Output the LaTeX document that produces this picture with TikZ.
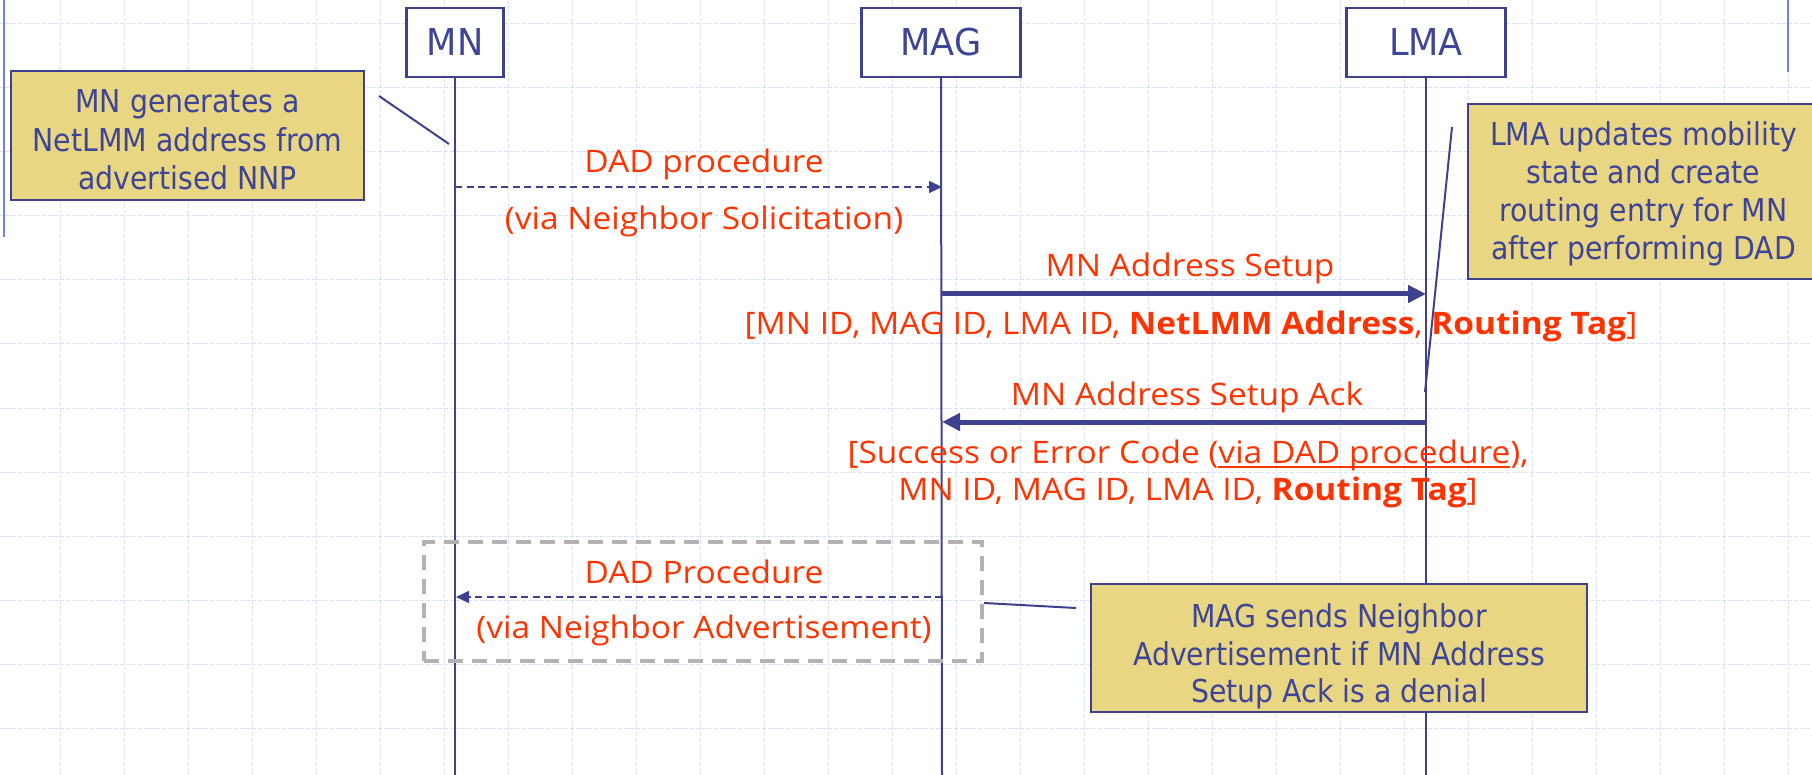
\documentclass[tikz,border=0pt]{standalone}
\usepackage{fontspec}
\usetikzlibrary{arrows.meta}
\newfontfamily\tahoma[FakeStretch=0.9]{DejaVu Sans}
\newfontfamily\tahomawide[FakeStretch=0.95]{DejaVu Sans}
\newfontfamily\comic[FakeStretch=1.08]{Open Sans}
\definecolor{ink}{RGB}{64,64,144}
\definecolor{txtblue}{RGB}{62,68,150}
\definecolor{notefill}{RGB}{233,214,131}
\definecolor{msgred}{RGB}{255,51,0}
\definecolor{gridblue}{RGB}{216,224,250}
\definecolor{edgeblue}{RGB}{110,128,240}
\definecolor{groupgrey}{RGB}{178,178,178}
% underline drawn just below the baseline
\newcommand\lowline[1]{\leavevmode\setbox0\hbox{#1}\rlap{\rule[-5pt]{\wd0}{1.6pt}}\box0}
\tikzset{
  gridline/.style={gridblue, line width=1pt, dash pattern=on 4pt off 2pt},
  edgeline/.style={edgeblue, line width=2.5pt},
  actor/.style={draw=ink, line width=2.4pt, fill=white, inner sep=0pt,
    font=\tahomawide\fontsize{37}{40}\selectfont, text=txtblue,
    minimum height=69pt},
  notebox/.style={draw=ink, line width=2pt, fill=notefill, inner sep=0pt},
  notetext/.style={font=\tahoma\fontsize{31.5}{38}\selectfont, text=txtblue,
    anchor=base, inner sep=0pt},
  life/.style={ink, line width=2pt},
  msg/.style={font=\comic\fontsize{31}{36}\selectfont, text=msgred,
    anchor=base, inner sep=0pt},
  async/.style={ink, line width=1.6pt, dash pattern=on 7pt off 4.5pt,
    -{Triangle[length=13pt,width=12pt]}},
  sync/.style={ink, line width=5pt, -{Triangle[length=18pt,width=17pt]}},
  tether/.style={ink, line width=2pt},
  group/.style={draw=groupgrey, line width=4pt, dash pattern=on 15pt off 9pt,
    inner sep=0pt},
}
\begin{document}
\begin{tikzpicture}[x=1pt,y=-1pt]
\useasboundingbox (0,0) rectangle (1812,775);
\clip (0,0) rectangle (1812,775);

% background grid
\foreach \x in {60,124,...,1788} \draw[gridline] (\x,0) -- (\x,775);
\foreach \y in {24,88,...,728} \draw[gridline] (0,\y) -- (1812,\y);

% page edge marks
\draw[edgeline] (4,0) -- (4,237);
\draw[edgeline] (1788,0) -- (1788,72);

% actors and lifelines
\node[actor, minimum width=97pt]  (mn)  at (455,42.5)  {MN};
\node[actor, minimum width=159pt] (mag) at (941,42.5)  {MAG};
\node[actor, minimum width=159pt] (lma) at (1426,42.5) {LMA};
\coordinate (mnEnd)  at (455,780);
\coordinate (magEnd) at (942,780);
\coordinate (lmaEnd) at (1426,780);
\draw[life] (mn.south)  -- (mnEnd);
\draw[life] (mag.south) -- (magEnd);
\draw[life] (lma.south) -- (lmaEnd);

% group frame around the neighbor advertisement
\node[group, minimum width=558pt, minimum height=119pt] (grp) at (703,601.5) {};

% message anchor points on the lifelines
\coordinate (mn1)  at (455,187);
\coordinate (mag1) at (942,187);
\coordinate (mag2) at (942,294);
\coordinate (lma2) at (1426,294);
\coordinate (lma3) at (1426,422);
\coordinate (mag3) at (942,422);
\coordinate (mag4) at (942,597);
\coordinate (mn4)  at (456,597);

\draw[async] (mn1) -- (mag1);
\draw[sync]  (mag2) -- (lma2);
\draw[sync]  (lma3) -- (mag3);
\draw[async] (mag4) -- (mn4);

% message labels
\node[msg] (dadA) at (704,173) {DAD procedure};
\node[msg] (dadB) at (704,230) {(via Neighbor Solicitation)};
\node[msg] (setA) at (1190,277) {MN Address Setup};
\node[msg] (setB) at (1191,335) {[MN ID, MAG ID, LMA ID, \textbf{NetLMM Address}, \textbf{Routing Tag}]};
\node[msg] (ackA) at (1187,405) {MN Address Setup Ack};
\node[msg] (ackB) at (1188,463) {[Success or Error Code (\lowline{via DAD procedure}),};
\node[msg] (ackC) at (1188,500) {MN ID, MAG ID, LMA ID, \textbf{Routing Tag}]};
\node[msg] (nadA) at (704,583) {DAD Procedure};
\node[msg] (nadB) at (704,638) {(via Neighbor Advertisement)};

% callout tethers
\coordinate (t1a) at (379,96);   \coordinate (t1b) at (449,144);
\coordinate (t2a) at (1452,127); \coordinate (t2b) at (1425,392);
\coordinate (t3b) at (1076,608);
\draw[tether] (t1a) -- (t1b);
\draw[tether] (t2a) -- (t2b);
\draw[tether] (grp.east |- 0,603) -- (t3b);

% callout notes
\node[notebox, minimum width=353pt, minimum height=129pt] (n1) at (187.5,135.5) {};
\node[notetext] (n1a) at (187.5,113) {MN generates a};
\node[notetext] (n1b) at (187.5,152) {NetLMM address from};
\node[notetext] (n1c) at (187.5,190) {advertised NNP};

\node[notebox, minimum width=351pt, minimum height=175pt] (n2) at (1643.5,191.5) {};
\node[notetext] (n2a) at (1643.5,146) {LMA updates mobility};
\node[notetext] (n2b) at (1643.5,184) {state and create};
\node[notetext] (n2c) at (1643.5,222) {routing entry for MN};
\node[notetext] (n2d) at (1643.5,260) {after performing DAD};

\node[notebox, minimum width=496pt, minimum height=128pt] (n3) at (1339,648) {};
\node[notetext] (n3a) at (1339,627) {MAG sends Neighbor};
\node[notetext] (n3b) at (1339,665) {Advertisement if MN Address};
\node[notetext] (n3c) at (1339,702) {Setup Ack is a denial};
\end{tikzpicture}
\end{document}
